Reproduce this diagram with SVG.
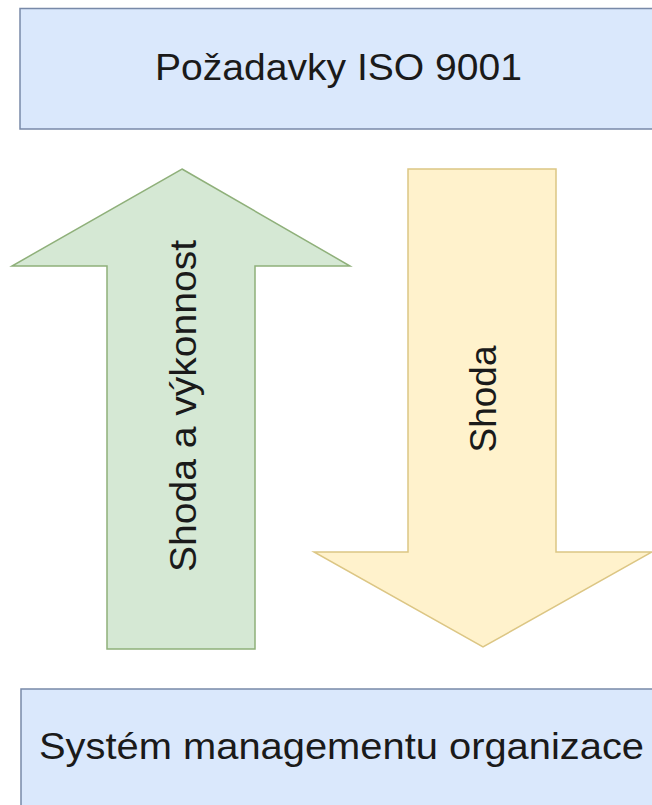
<svg xmlns="http://www.w3.org/2000/svg" width="652" height="805" viewBox="0 0 652 805">
<style>
.blue{fill:#dae8fc;stroke:#7889a8;stroke-width:1.5}
.green{fill:#d5e8d4;stroke:#8fb07a;stroke-width:1.5;stroke-linejoin:miter}
.yellow{fill:#fff2cc;stroke:#dcc684;stroke-width:1.5}
.lbl{font-family:"Liberation Sans",Arial,sans-serif;font-size:37px;fill:#1a1a1a}
</style>
<rect width="652" height="805" fill="#ffffff"/>
<g id="requirements">
<rect class="blue" x="20" y="8.5" width="640" height="120.5"/>
<text class="lbl" x="338.5" y="80" text-anchor="middle" textLength="367" lengthAdjust="spacingAndGlyphs">Požadavky ISO 9001</text>
</g>
<g id="system">
<rect class="blue" x="21" y="689" width="640" height="130"/>
<text class="lbl" x="341.5" y="759" text-anchor="middle" textLength="605" lengthAdjust="spacingAndGlyphs">Systém managementu organizace</text>
</g>
<g id="arrow-up">
<polygon class="green" points="182,169 350,266 255,266 255,649 107,649 107,266 12,266"/>
<text class="lbl" transform="translate(196,406) rotate(-90)" x="0" y="0" text-anchor="middle" textLength="332" lengthAdjust="spacingAndGlyphs">Shoda a výkonnost</text>
</g>
<g id="arrow-down">
<polygon class="yellow" points="408,169 556,169 556,552 652,552 483,647 314,552 408,552"/>
<text class="lbl" transform="translate(496,399) rotate(-90)" x="0" y="0" text-anchor="middle">Shoda</text>
</g>
<g id="connectors"></g>
</svg>
